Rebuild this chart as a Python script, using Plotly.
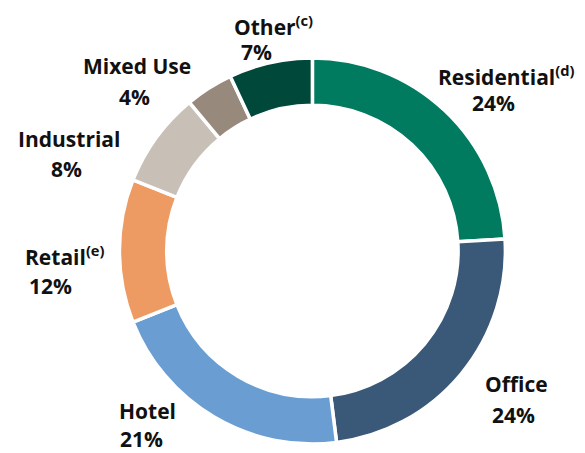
import plotly.graph_objects as go

categories = ["Residential", "Office", "Hotel", "Retail", "Industrial", "Mixed Use", "Other"]
notes = ["d", "", "", "e", "", "", "c"]
shares = [24, 24, 21, 12, 8, 4, 7]
colors = ["#007B5F", "#3A5877", "#6A9ED3", "#ED9B62", "#C8BFB7", "#978A7D", "#00483A"]

# label layout (screen pixels): name line (x, y), percent line (x, y), alignment
name_px = [(506, 75), (516, 384), (117, 411), (23, 255), (69, 139), (137, 66), (273, 25)]
pct_px = [(493, 103), (513, 415), (118, 439), (27, 286), (66, 169), (134, 97), (256, 52)]
label_align = ["center", "center", "left", "left", "center", "center", "center"]

OFF = 8  # page body margin
W, H = 585 - OFF, 453 - OFF
cx, cy, r = 312.4 - OFF, 251.0 - OFF, 193.0

fig = go.Figure(go.Pie(
    labels=categories,
    values=shares,
    sort=False,
    direction="clockwise",
    rotation=0,
    hole=0.755,
    textinfo="none",
    hoverinfo="label+percent",
    marker=dict(colors=colors, line=dict(color="white", width=3.5)),
    domain=dict(x=[(cx - r) / W, (cx + r) / W], y=[(H - cy - r) / H, (H - cy + r) / H]),
    showlegend=False,
))

font = dict(family="Open Sans", size=21, color="#111111")
for cat, note, val, (nx, ny), (qx, qy), al in zip(categories, notes, shares, name_px, pct_px, label_align):
    name = f"{cat}<sup>({note})</sup>" if note else cat
    xa = "left" if al == "left" else "center"
    for txt, (px, py) in ((f"<b>{name}</b>", (nx, ny)), (f"<b>{val}%</b>", (qx, qy))):
        fig.add_annotation(
            x=(px - OFF) / W, y=1 - (py - OFF) / H, xref="paper", yref="paper",
            text=txt, showarrow=False, xanchor=xa, yanchor="middle",
            align=al, font=font,
        )

fig.update_layout(
    width=W, height=H,
    margin=dict(l=0, r=0, t=0, b=0),
    paper_bgcolor="white",
    plot_bgcolor="white",
)

fig.write_html("out.html")
